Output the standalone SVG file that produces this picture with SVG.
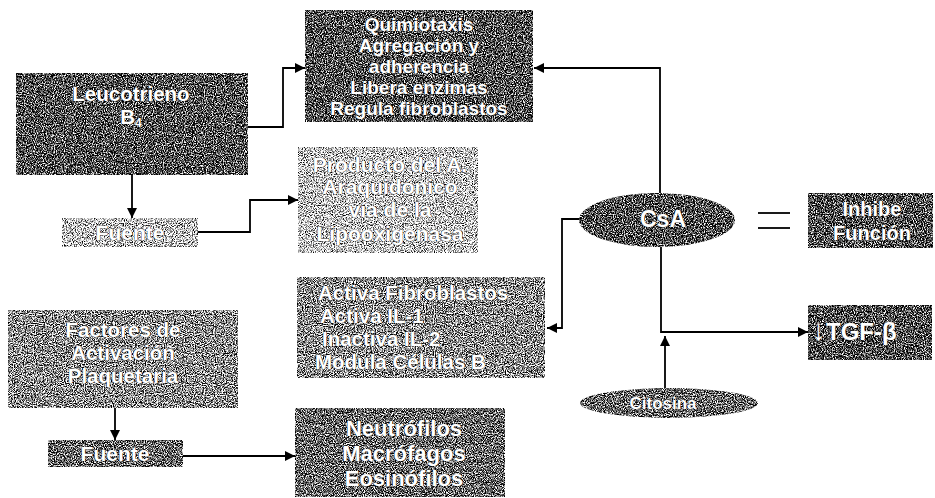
<svg xmlns="http://www.w3.org/2000/svg" width="935" height="498" viewBox="0 0 935 498">
<style>
.t{font-family:"Liberation Sans",Arial,sans-serif;font-weight:bold;fill:#fff;text-anchor:middle;stroke:#1a1a1a;stroke-width:0.7;paint-order:stroke}
.l{text-anchor:start}
.c{fill:none;stroke:#000;stroke-width:1.8}
.b{fill:#555}
</style>
<defs>
<marker id="ah" viewBox="0 0 10 10" refX="10" refY="5" markerWidth="12" markerHeight="10" orient="auto" markerUnits="userSpaceOnUse"><path d="M0,0 L10,5 L0,10 z" fill="#000"/></marker>
<filter id="f30" x="0" y="0" width="1" height="1" color-interpolation-filters="sRGB">
<feTurbulence type="fractalNoise" baseFrequency="0.9" numOctaves="2" seed="3"/>
<feColorMatrix type="matrix" values="3.2 0 0 0 -1.3  3.2 0 0 0 -1.3  3.2 0 0 0 -1.3  0 0 0 0 1"/>
<feComposite in2="SourceGraphic" operator="in"/>
</filter>
<filter id="f40" x="0" y="0" width="1" height="1" color-interpolation-filters="sRGB">
<feTurbulence type="fractalNoise" baseFrequency="0.9" numOctaves="2" seed="7"/>
<feColorMatrix type="matrix" values="3.2 0 0 0 -1.2  3.2 0 0 0 -1.2  3.2 0 0 0 -1.2  0 0 0 0 1"/>
<feComposite in2="SourceGraphic" operator="in"/>
</filter>
<filter id="f55" x="0" y="0" width="1" height="1" color-interpolation-filters="sRGB">
<feTurbulence type="fractalNoise" baseFrequency="0.9" numOctaves="2" seed="11"/>
<feColorMatrix type="matrix" values="3.2 0 0 0 -1.05  3.2 0 0 0 -1.05  3.2 0 0 0 -1.05  0 0 0 0 1"/>
<feComposite in2="SourceGraphic" operator="in"/>
</filter>
<filter id="f75" x="0" y="0" width="1" height="1" color-interpolation-filters="sRGB">
<feTurbulence type="fractalNoise" baseFrequency="0.9" numOctaves="2" seed="5"/>
<feColorMatrix type="matrix" values="3.2 0 0 0 -0.82  3.2 0 0 0 -0.82  3.2 0 0 0 -0.82  0 0 0 0 1"/>
<feComposite in2="SourceGraphic" operator="in"/>
</filter>
</defs>
<rect width="935" height="498" fill="#fff"/>

<g id="connectors">
<polyline class="c" points="248,127 283,127 283,68 305,68" marker-end="url(#ah)"/>
<line class="c" x1="132" y1="175" x2="132" y2="218" marker-end="url(#ah)"/>
<polyline class="c" points="198,232 250,232 250,200 298,200" marker-end="url(#ah)"/>
<polyline class="c" points="660,193 660,68 534,68" marker-end="url(#ah)"/>
<polyline class="c" points="580,219 562,219 562,328 547,328" marker-end="url(#ah)"/>
<polyline class="c" points="661,247 661,332 808,332" marker-end="url(#ah)"/>
<line class="c" x1="665" y1="388" x2="665" y2="336" marker-end="url(#ah)"/>
<line class="c" x1="115" y1="408" x2="115" y2="440" marker-end="url(#ah)"/>
<line class="c" x1="183" y1="456" x2="295" y2="456" marker-end="url(#ah)"/>
</g>

<g id="equals">
<line class="c" x1="758" y1="213" x2="790" y2="213"/>
<line class="c" x1="758" y1="228" x2="790" y2="228"/>
</g>

<g id="quimiotaxis">
<rect class="b" x="305" y="10" width="228" height="112" filter="url(#f30)"/>
<text class="t" font-size="19" x="419" y="31">Quimiotaxis</text>
<text class="t" font-size="19" x="419" y="52">Agregación y</text>
<text class="t" font-size="19" x="419" y="73">adherencia</text>
<text class="t" font-size="19" x="419" y="94">Libera enzimas</text>
<text class="t" font-size="19" x="419" y="115">Regula fibroblastos</text>
</g>

<g id="leucotrieno">
<rect class="b" x="16" y="73" width="232" height="102" filter="url(#f30)"/>
<text class="t" font-size="20.5" x="131" y="101">Leucotrieno</text>
<text class="t" font-size="20.5" x="131" y="124">B<tspan font-size="12" dy="3">4</tspan></text>
</g>

<g id="fuente1">
<rect class="b" x="62" y="218" width="136" height="29" filter="url(#f75)"/>
<text class="t" font-size="21" x="130" y="240">Fuente</text>
</g>

<g id="producto">
<rect class="b" x="298" y="147" width="180" height="106" filter="url(#f75)"/>
<text class="t" font-size="21" x="390" y="172">Producto del A.</text>
<text class="t" font-size="21" x="390" y="194">Araquidónico</text>
<text class="t" font-size="21" x="390" y="217">vía de la</text>
<text class="t" font-size="21" x="390" y="241">Lipooxigenasa</text>
</g>

<g id="activa">
<rect class="b" x="297" y="277" width="248" height="101" filter="url(#f55)"/>
<text class="t l" font-size="20.5" x="318" y="300">Activa Fibroblastos</text>
<text class="t l" font-size="20.5" x="320" y="323">Activa IL-1</text>
<text class="t l" font-size="20.5" x="322" y="346">Inactiva IL-2</text>
<text class="t l" font-size="20.5" x="315" y="369">Modula Células B</text>
</g>

<g id="factores">
<rect class="b" x="8" y="310" width="230" height="98" filter="url(#f55)"/>
<text class="t" font-size="20.5" x="123" y="337">Factores de</text>
<text class="t" font-size="20.5" x="123" y="360">Activación</text>
<text class="t" font-size="20.5" x="123" y="383">Plaquetaria</text>
</g>

<g id="fuente2">
<rect class="b" x="48" y="440" width="135" height="27" filter="url(#f40)"/>
<text class="t" font-size="21" x="115" y="461">Fuente</text>
</g>

<g id="neutrofilos">
<rect class="b" x="295" y="408" width="210" height="89" filter="url(#f40)"/>
<text class="t" font-size="22" x="404" y="436">Neutrófilos</text>
<text class="t" font-size="22" x="404" y="461">Macrófagos</text>
<text class="t" font-size="22" x="404" y="486">Eosinófilos</text>
</g>

<g id="csa">
<ellipse class="b" cx="657" cy="220" rx="78" ry="27" filter="url(#f30)"/>
<text class="t" font-size="23" x="663" y="227">CsA</text>
</g>

<g id="inhibe">
<rect class="b" x="808" y="193" width="125" height="55" filter="url(#f30)"/>
<text class="t" font-size="20" x="872" y="216">Inhibe</text>
<text class="t" font-size="20" x="872" y="240">Función</text>
</g>

<g id="tgf">
<rect class="b" x="808" y="305" width="124" height="55" filter="url(#f30)"/>
<text class="t l" font-size="24" x="811" y="340"><tspan font-size="30" font-weight="normal">↓</tspan>TGF-β</text>
</g>

<g id="citosina">
<ellipse class="b" cx="669" cy="403" rx="89" ry="15" filter="url(#f40)"/>
<text class="t" font-size="17" x="663" y="409">Citosina</text>
</g>
</svg>
